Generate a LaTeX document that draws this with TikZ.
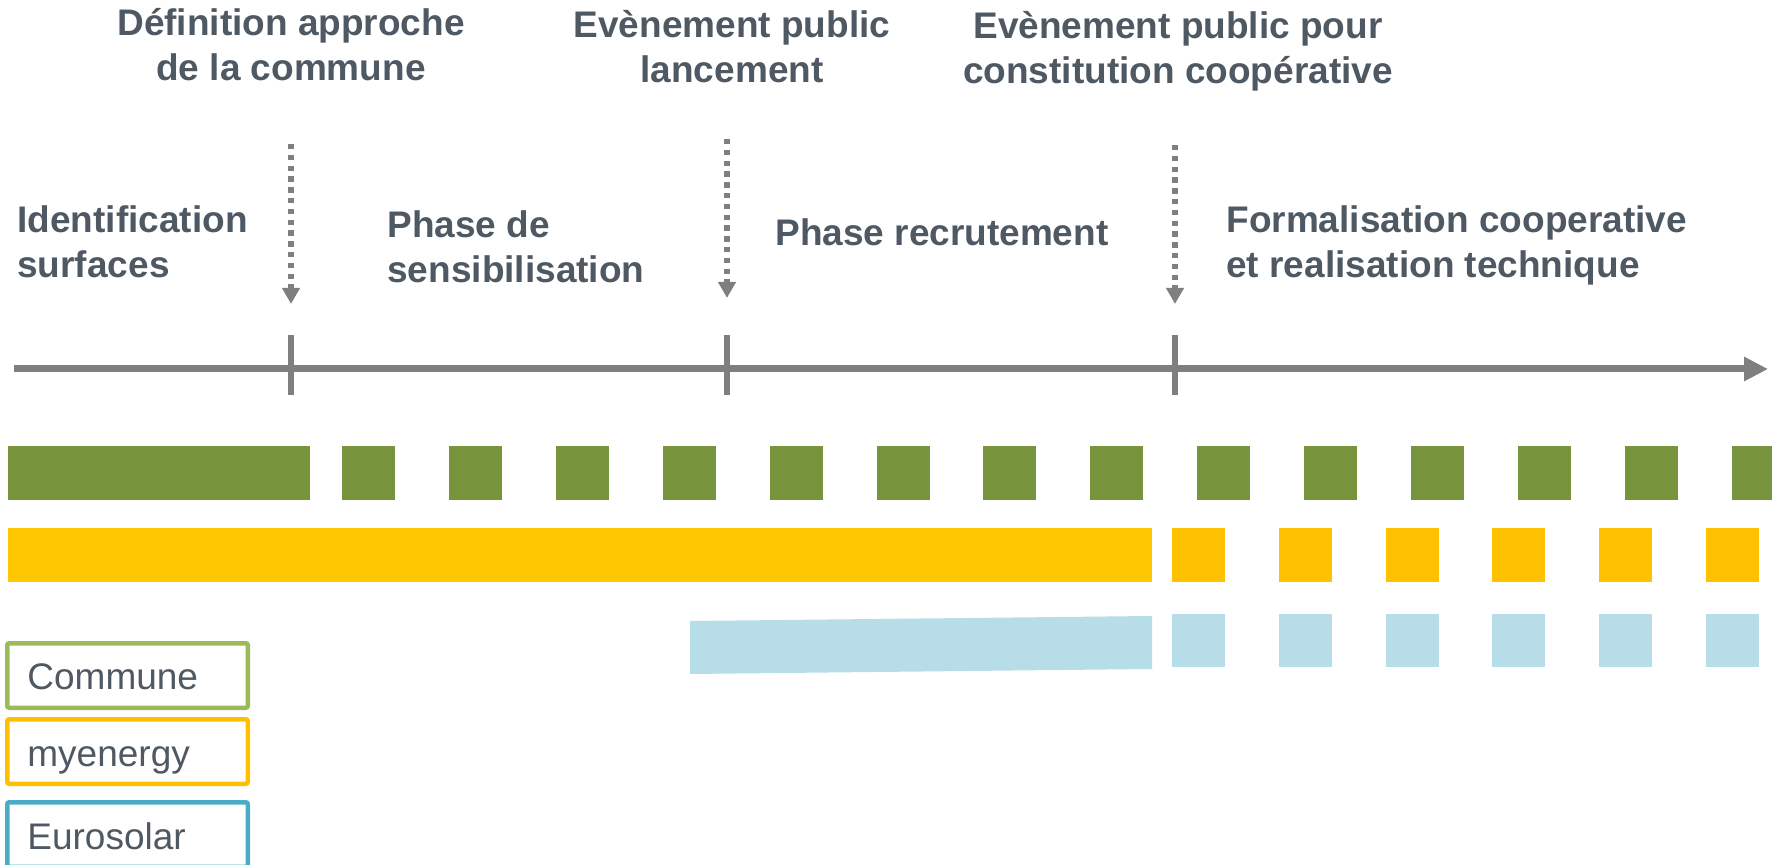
\documentclass[tikz,border=0pt]{standalone}
\usepackage{fontspec}
\setmainfont{Liberation Sans}
\usepackage{tikz}
\usetikzlibrary{arrows.meta}

\definecolor{axisgray}{HTML}{7F7F7F}
\definecolor{textgray}{HTML}{4E5964}
\definecolor{communegreen}{HTML}{77933C}
\definecolor{communeline}{HTML}{9BBB59}
\definecolor{energyyellow}{HTML}{FFC602}
\definecolor{energyorange}{HTML}{FFC000}
\definecolor{solarblue}{HTML}{B7DDE8}
\definecolor{solarline}{HTML}{4BACC6}

\tikzset{
	heading/.style={font=\bfseries\fontsize{18.5}{22.5}\selectfont, text=textgray, inner sep=0pt},
	legendtext/.style={font=\fontsize{18.5}{22.5}\selectfont, text=textgray, inner sep=0pt, anchor=base west},
	legendbox/.style={line width=2.25pt, rounded corners=1pt},
	eventarrow/.style={draw=axisgray, line width=2.9pt, dash pattern=on 2.7pt off 2.7pt, -{Triangle[length=8pt,width=8.5pt]}},
	tick/.style={draw=axisgray, line width=2.75pt}
}

\begin{document}
\begin{tikzpicture}[x=0.5pt, y=-0.5pt]
	\useasboundingbox (0,0) rectangle (1781,865);
	\clip (0,0) rectangle (1781,865);

	\node [heading, align=center, anchor=base] (approche) at (291,81) {Définition approche\\de la commune};
	\node [heading, align=center, anchor=base] (lancement) at (732,83) {Evènement public\\lancement};
	\node [heading, align=center, anchor=base] (constitution) at (1178,84) {Evènement public pour\\constitution coopérative};
	\node [heading, align=left, anchor=base west] (identification) at (17,278) {Identification\\surfaces};
	\node [heading, align=left, anchor=base west] (sensibilisation) at (387,283) {Phase de\\sensibilisation};
	\node [heading, anchor=base west] (recrutement) at (775,246) {Phase recrutement};
	\node [heading, align=left, anchor=base west] (formalisation) at (1226,278) {Formalisation cooperative\\et realisation technique};

	\coordinate (start) at (14,369);
	\coordinate (end) at (1768,369);
	\draw [axisgray, line width=3.5pt, -{Triangle[length=12pt,width=11.5pt]}] (start) -- (end);

	\foreach \x/\top/\tip [count=\i] in {291/144/304, 727/139/298, 1175/145/304} {
		\coordinate (event\i) at (\x,\top);
		\coordinate (mark\i) at (\x,\tip);
		\draw [eventarrow] (event\i) -- (mark\i);
		\draw [tick] (\x,335) -- (\x,395);
	}

	\fill [communegreen] (8,446) rectangle (310,500);
	\foreach \k in {0,...,12}
		\fill [communegreen] ({342+106.9*\k},446) rectangle +(53,54);
	\fill [communegreen] (1731.7,446) rectangle (1772,500);

	\fill [energyyellow] (8,528) rectangle (1152,582);
	\foreach \k in {0,...,5}
		\fill [energyorange] ({1172+106.8*\k},528) rectangle +(53,54);

	\fill [solarblue] (690,621) -- (1152,616) -- (1152,669) -- (690,674) -- cycle;
	\foreach \k in {0,...,5}
		\fill [solarblue] ({1172+106.8*\k},614) rectangle +(53,53);

	\draw [legendbox, communeline] (7.25,643.25) rectangle (247.75,707.75);
	\draw [legendbox, energyorange] (7.25,719.25) rectangle (247.75,783.75);
	\draw [legendbox, solarline] (7.25,802.25) rectangle (247.75,866.75);
	\node [legendtext] (commune) at (27,689) {Commune};
	\node [legendtext] (myenergy) at (27,766) {myenergy};
	\node [legendtext] (eurosolar) at (27,849) {Eurosolar};
\end{tikzpicture}
\end{document}
